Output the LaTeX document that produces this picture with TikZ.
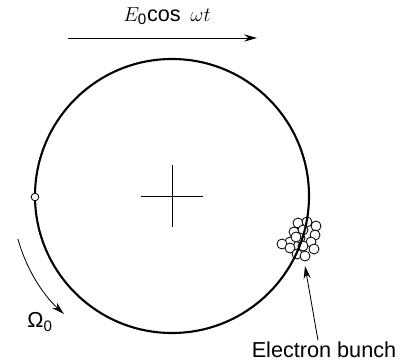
\documentclass[tikz,border=0pt]{standalone}
\usepackage{amsmath}
\usepackage{fontspec}
\setmainfont{Liberation Sans}
\usetikzlibrary{arrows.meta}

\begin{document}
\begin{tikzpicture}[x=0.025cm, y=0.025cm,
    every node/.style={font=\fontsize{15.4}{18}\selectfont, inner sep=1pt},
    tip/.style={-{Stealth[length=0.32cm, width=0.18cm]}},
    ring/.style={line width=1.5pt},
    electron/.style={draw=black, fill=white, line width=0.6pt}]
\useasboundingbox (0,0) rectangle (400,362);

% Field along the top
\coordinate (fstart) at (68,324);
\coordinate (fend) at (257,324);
\draw[tip, line width=0.7pt] (fstart) -- (fend);
\node (field) at (167,346) {$E_{\text{0}}$cos\, $\omega t$};

% Electron bunch (drawn under the orbit)
\foreach \x/\y in {298/139, 307/140, 316/136, 294/130, 303/132, 315/127,
                   290/120, 300/124, 311/120, 282/118, 290/114, 303/116,
                   314/113, 297/108, 305/106, 296/125} {
    \draw[electron] (\x,\y) circle[radius=5];
}

% Orbit and centre cross
\draw[ring] (172,166) circle[radius=137];
\draw[line width=0.6pt] (141,166) -- (203,166);
\draw[line width=0.6pt] (172,135) -- (172,197);

% Single electron on the left
\draw[electron] (35,165) circle[radius=3.8];

% Rotation
\draw[tip, line width=0.6pt] (172,166) ++(195.6:160) arc[start angle=195.6, end angle=227.5, radius=160];
\node (omega) at (40,40) {$\text{Ω}_{\text{0}}$};

% Label for the bunch
\node (bunch) at (324,12) {Electron bunch};
\coordinate (bunchtip) at (305,96);
\draw[tip, line width=0.6pt] (bunch.north -| 318,0) -- (bunchtip);
\end{tikzpicture}
\end{document}
